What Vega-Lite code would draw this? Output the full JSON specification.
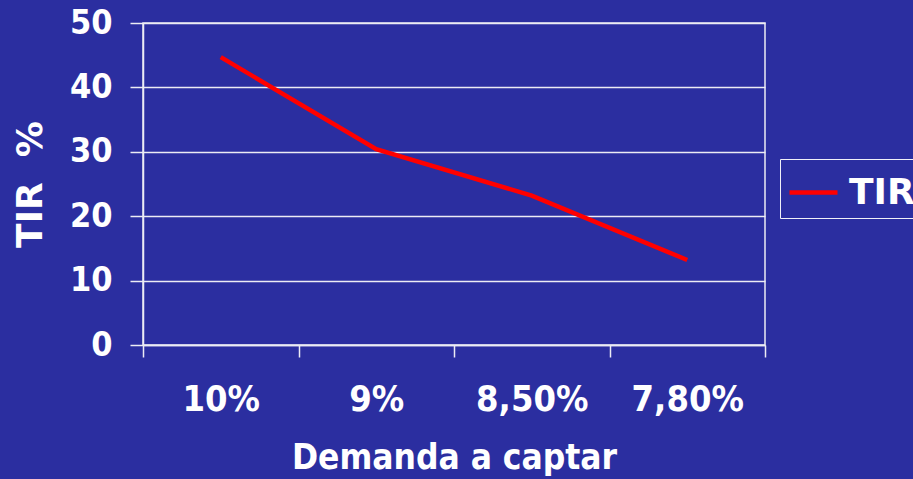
{
  "$schema": "https://vega.github.io/schema/vega-lite/v6.json",
  "width": 622,
  "height": 322,
  "autosize": {"type": "none"},
  "padding": {"left": 143, "top": 23, "right": 148, "bottom": 134},
  "background": "#2b2ea0",
  "data": {
    "values": [
      {"demanda": "10%", "tir": 44.7},
      {"demanda": "9%", "tir": 30.4},
      {"demanda": "8,50%", "tir": 23.2},
      {"demanda": "7,80%", "tir": 13.2}
    ]
  },
  "mark": {"type": "line", "strokeWidth": 4.5},
  "encoding": {
    "x": {
      "field": "demanda",
      "type": "ordinal",
      "sort": null,
      "scale": {"type": "band", "paddingInner": 0, "paddingOuter": 0},
      "axis": {
        "title": "Demanda a captar",
        "labelAngle": 0,
        "labelFontSize": 36,
        "tickBand": "extent",
        "grid": false,
        "tickSize": 12,
        "labelPadding": 25,
        "titlePadding": 23,
        "titleFontSize": 35
      }
    },
    "y": {
      "field": "tir",
      "type": "quantitative",
      "scale": {"domain": [0, 50], "nice": false},
      "axis": {
        "title": "TIR\u00a0\u00a0%",
        "values": [0, 10, 20, 30, 40, 50],
        "tickSize": 13,
        "labelPadding": 18,
        "titlePadding": 20,
        "titleFont": "DejaVu Sans",
        "titleFontSize": 36
      }
    },
    "color": {
      "datum": "TIR",
      "type": "nominal",
      "scale": {"range": ["#ff0000"]},
      "legend": {
        "title": null,
        "orient": "none",
        "legendX": 637,
        "legendY": 136,
        "symbolType": "stroke",
        "symbolSize": 2304,
        "symbolStrokeWidth": 4.5,
        "labelFont": "DejaVu Sans",
        "labelFontSize": 36,
        "labelFontWeight": "bold",
        "labelColor": "#ffffff",
        "labelOffset": 9,
        "strokeColor": "#f0f0f8",
        "padding": 7
      }
    }
  },
  "config": {
    "view": {"stroke": "#ececf4", "strokeWidth": 1.5},
    "axis": {
      "domainColor": "#ececf4",
      "domainWidth": 1.5,
      "tickColor": "#ececf4",
      "tickWidth": 1.5,
      "gridColor": "#ececf4",
      "gridWidth": 1.5,
      "gridOpacity": 1,
      "labelFont": "DejaVu Sans Condensed",
      "labelFontSize": 34,
      "labelFontWeight": "bold",
      "labelColor": "#ffffff",
      "titleFont": "DejaVu Sans Condensed",
      "titleFontSize": 34,
      "titleFontWeight": "bold",
      "titleColor": "#ffffff"
    }
  }
}
